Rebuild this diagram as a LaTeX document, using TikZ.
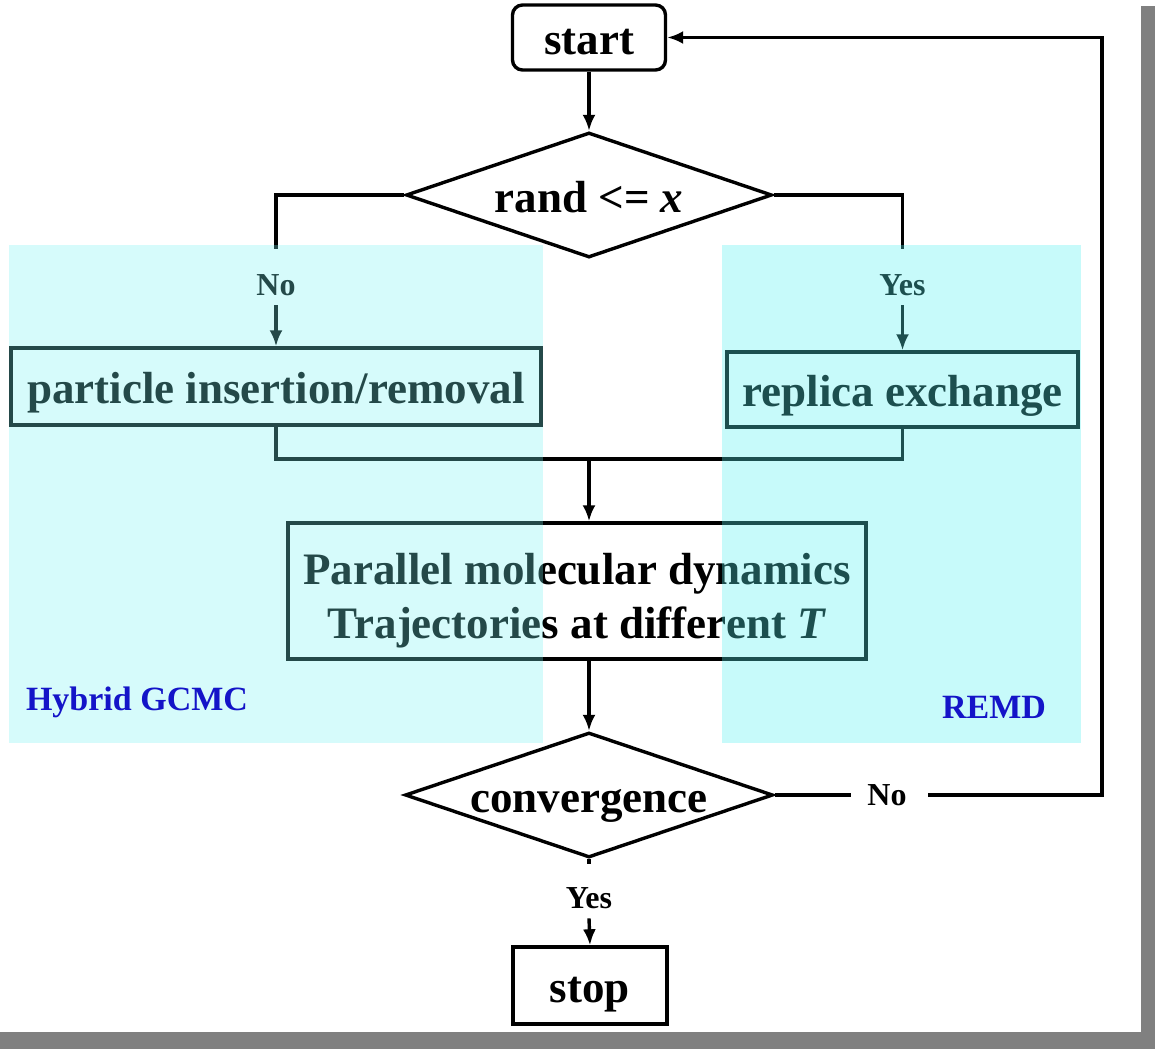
\documentclass[tikz,border=0pt]{standalone}
\usepackage{fontspec}
\setmainfont{Liberation Serif}
\usetikzlibrary{arrows.meta,shapes.geometric}
\definecolor{leftcyan}{RGB}{122,245,245}
\definecolor{rightcyan}{RGB}{88,240,240}
\definecolor{framegray}{RGB}{128,128,128}
\definecolor{tagblue}{RGB}{20,20,200}
\begin{document}
\begin{tikzpicture}[x=1pt,y=-1pt,
  line width=3.4pt,
  flow/.style={-{Latex[length=16pt,width=13pt]}},
  big/.style={font=\fontsize{45}{54}\selectfont\bfseries},
  oneline/.style={text height=34pt, text depth=0pt},
  box/.style={draw, rectangle, inner sep=0pt, big},
  decision/.style={draw, diamond, inner sep=0pt, aspect=2.93, big, oneline},
  lbl/.style={inner sep=0pt, font=\fontsize{32}{38}\selectfont\bfseries},
  region/.style={inner sep=0pt, text=tagblue, font=\fontsize{34}{40}\selectfont\bfseries}
]
\useasboundingbox[fill=white] (0,0) rectangle (1155,1049);

% shadow frame
\fill[framegray] (1141,6) rectangle (1155,1049);
\fill[framegray] (0,1032) rectangle (1155,1049);

% nodes
\node[box, oneline, rounded corners=10pt, minimum width=153pt, minimum height=65pt] (start) at (589,37.5) {start};
\node[decision, minimum width=366pt, minimum height=125pt] (cond) at (589,195) {rand <= \textit{x}};
\node[box, oneline, minimum width=530pt, minimum height=77pt] (insert) at (276,386.5) {particle insertion/removal};
\node[box, oneline, minimum width=351pt, minimum height=75pt] (replica) at (902.5,389.5) {replica exchange};
\node[box, minimum width=578pt, minimum height=136pt, align=center] (md) at (577,591)
  {\rule{0pt}{51pt}Parallel molecular dynamics\\Trajectories at different \textit{T}};
\node[decision, minimum width=368pt, minimum height=125pt] (conv) at (589,795) {convergence};
\node[box, oneline, minimum width=154pt, minimum height=77pt] (stop) at (590,985.5) {stop};

% branch labels
\node[lbl] (no1) at (276,285) {No};
\node[lbl] (yes1) at (902.5,285) {Yes};
\node[lbl] (no2) at (887,795) {No};
\node[lbl] (yes2) at (589,898) {Yes};

% connectors
\draw[flow] (start.south) -- (cond.north);
\draw (cond.west) -| ([yshift=24pt]no1.north);
\draw[flow] ([yshift=-8pt]no1.south) -- (insert.north);
\draw (cond.east) -| ([yshift=24pt]yes1.north);
\draw[flow] ([yshift=-8pt]yes1.south) -- (replica.north);

\coordinate (merge) at (589,459);
\draw (insert.south) |- (merge) -| (replica.south);
\draw[flow] (merge) -- (merge |- md.north);
\draw[flow] (conv.north |- md.south) -- (conv.north);

\coordinate (loop) at (1102,795);
\draw (conv.east) -- ([xshift=-15pt]no2.west);
\draw[flow] ([xshift=20pt]no2.east) -| (loop |- start.east) -- (start.east);

\draw (conv.south) -- ([yshift=22pt]yes2.north);
\draw[flow] ([yshift=-8pt]yes2.south) -- (stop.north);

% method regions
\fill[leftcyan, fill opacity=0.3] (9,245) rectangle (543,743);
\fill[rightcyan, fill opacity=0.33] (722,245) rectangle (1081,743);
\node[region] (gcmc) at (137,702) {Hybrid GCMC};
\node[region] (remd) at (994,707) {REMD};
\end{tikzpicture}
\end{document}
